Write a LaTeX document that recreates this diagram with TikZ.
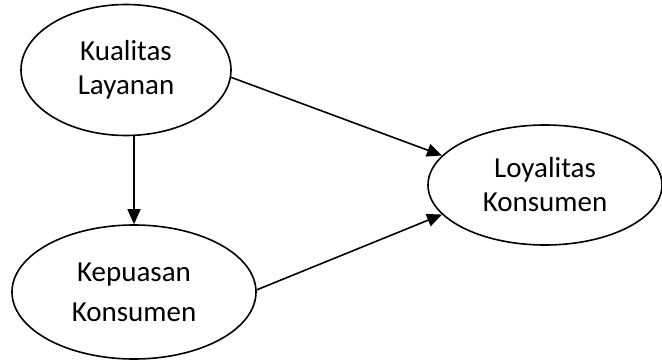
\documentclass[tikz,border=0pt]{standalone}
\usepackage{fontspec}
\setmainfont{Carlito}
\usepackage{tikz}
\usetikzlibrary{arrows.meta,shapes.geometric,positioning,calc}

\begin{document}
\begin{tikzpicture}[x=1pt, y=-1pt, line width=1.6pt,
    var/.style={draw, ellipse, inner sep=0pt, align=center,
        font=\fontsize{29}{34}\selectfont},
    link/.style={-{Triangle[length=15pt,width=13pt]}}]
    \useasboundingbox (0,0) rectangle (662,362);

    % Variables
    \node[var, minimum width=210pt, minimum height=131pt] (kl) at (126,70) {Kualitas\\Layanan};
    \node[var, minimum width=244pt, minimum height=134pt] (kp) at (134,292) {Kepuasan\\[6pt]Konsumen};
    \node[var, minimum width=234pt, minimum height=120pt] (lk) at (545,185) {Loyalitas\\Konsumen};

    % Connect nodes
    \draw[link] (kl.-4) -- (lk.164);
    \draw[link] (kl.south -| kp.north) -- (kp.north);
    \draw[link] (kp.1) -- (lk.196);
\end{tikzpicture}
\end{document}
